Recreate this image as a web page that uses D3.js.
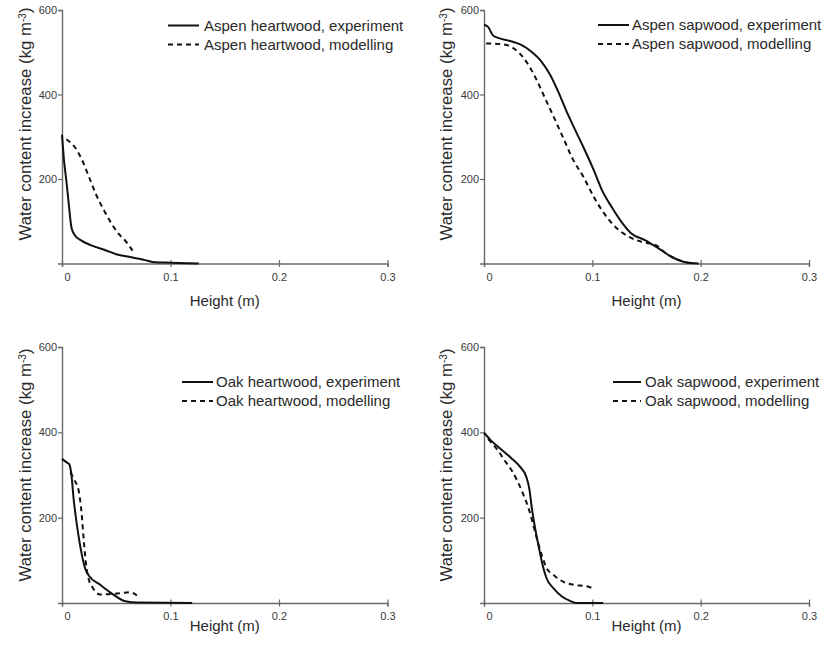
<!DOCTYPE html>
<html><head><meta charset="utf-8">
<script src="https://cdn.jsdelivr.net/npm/d3@7"></script>
<style>
body{margin:0;background:#fff;}
svg{display:block;font-family:"Liberation Sans",Arial,Helvetica,sans-serif;}
</style>
</head><body>
<svg id="chart" width="826" height="645"></svg>
<script>
// ---------------- DATA ----------------
const xTicks = [0, 0.1, 0.2, 0.3];
const xTickLabels = ["0", "0.1", "0.2", "0.3"];
const yTicks = [200, 400, 600];
const yTickLabels = ["200", "400", "600"];
const xDomain = [0, 0.3];
const yDomain = [0, 600];

const panelNames = ["Aspen heartwood", "Aspen sapwood", "Oak heartwood", "Oak sapwood"];
const seriesSuffix = [", experiment", ", modelling"];
const xAxisTitle = "Height (m)";
const yAxisTitle = "Water content increase (kg m";
const yAxisTitleSup = "-3";

// [height (m), water content increase (kg m-3)]
const aspenHeartExperiment = [[0,305],[0.0019,243],[0.004,196],[0.0062,142],[0.0087,85],[0.0118,67],[0.018,54],[0.027,43],[0.0395,32],[0.05,22],[0.064,15],[0.0766,8],[0.086,3],[0.1,2],[0.126,0]];
const aspenHeartModelling = [[0.004,294],[0.0133,270],[0.0195,239],[0.0256,200],[0.0318,161],[0.0395,122],[0.0457,94],[0.052,71],[0.058,55],[0.0657,28]];
const aspenSapExperiment = [[0,565],[0.0037,560],[0.0083,540],[0.013,534],[0.025,526],[0.034,518],[0.0438,501],[0.053,478],[0.061,447],[0.0685,407],[0.0762,360],[0.084,317],[0.092,274],[0.1015,220],[0.109,173],[0.118,133],[0.127,98],[0.136,71],[0.149,55],[0.161,36],[0.173,16],[0.186,3],[0.198,0]];
const aspenSapModelling = [[0.002,521],[0.016,519],[0.025,513],[0.033,497],[0.041,470],[0.0485,435],[0.0562,392],[0.064,349],[0.073,298],[0.082,247],[0.092,204],[0.1015,157],[0.111,118],[0.1215,86],[0.134,63],[0.146,51],[0.159,43],[0.168,24],[0.18,8],[0.193,0]];
const oakHeartExperiment = [[0,338],[0.0046,329],[0.0068,325],[0.0086,302],[0.0108,242],[0.0139,180],[0.018,117],[0.0217,78],[0.0248,64],[0.0355,42],[0.046,22],[0.0586,4],[0.069,1],[0.12,0]];
const oakHeartModelling = [[0.0077,306],[0.0117,287],[0.0154,263],[0.018,212],[0.02,149],[0.022,94],[0.0248,54],[0.0278,38],[0.035,20],[0.045,21],[0.054,23],[0.063,25],[0.072,11]];
const oakSapExperiment = [[0,399],[0.0068,380],[0.016,360],[0.025,340],[0.033,320],[0.039,296],[0.042,265],[0.044,225],[0.047,178],[0.0506,131],[0.0537,93],[0.0577,58],[0.064,35],[0.0716,16],[0.0794,5],[0.0855,0],[0.11,0]];
const oakSapModelling = [[0.0037,384],[0.013,357],[0.019,334],[0.025,313],[0.031,285],[0.037,250],[0.042,215],[0.046,178],[0.05,140],[0.0537,109],[0.0577,82],[0.064,66],[0.073,50],[0.084,42],[0.093,40],[0.1,35]];

const panelSeries = [
  [aspenHeartExperiment, aspenHeartModelling],
  [aspenSapExperiment, aspenSapModelling],
  [oakHeartExperiment, oakHeartModelling],
  [oakSapExperiment, oakSapModelling]
];

// ---------------- LAYOUT ----------------
const layout = [
  {x0:62,  x1:387.5, yTop:10,  yBot:263.5, legLine:[168,199], legText:204, legY:25.5, xTitleY:305.5, yTitleX:25,  yTitleC:124},
  {x0:484, x1:809,   yTop:10,  yBot:263.5, legLine:[598,629], legText:632, legY:25,   xTitleY:305.5, yTitleX:446, yTitleC:124},
  {x0:62,  x1:387.5, yTop:347, yBot:603,   legLine:[182,213], legText:216, legY:382,  xTitleY:630.5, yTitleX:25,  yTitleC:465},
  {x0:484, x1:809,   yTop:347, yBot:603,   legLine:[613,641], legText:645, legY:382,  xTitleY:630.5, yTitleX:446, yTitleC:465}
];
const legGap = 19;
const axisColor = "#6a6a6a";
const textColor = "#2a2a2a";

const svg = d3.select("#chart");

layout.forEach((L, p) => {
  const x = d3.scaleLinear().domain(xDomain).range([L.x0, L.x1]);
  const y = d3.scaleLinear().domain(yDomain).range([L.yBot, L.yTop]);
  const g = svg.append("g");

  // y axis
  const ya = g.append("g").attr("transform", `translate(${L.x0},0)`)
    .call(d3.axisLeft(y).tickValues(yTicks).tickFormat((d,i)=>yTickLabels[i]).tickSizeOuter(0).tickSize(4).tickPadding(1));
  ya.select(".domain").attr("stroke", axisColor).attr("stroke-width", 1.4);
  ya.selectAll(".tick line").attr("stroke", axisColor).attr("stroke-width", 1.2);
  ya.selectAll(".tick text").attr("fill", "#3a3a3a").style("font-size", "11px").style("font-family", '"Liberation Sans",Arial,sans-serif');

  // x axis
  const xa = g.append("g").attr("transform", `translate(0,${L.yBot})`)
    .call(d3.axisBottom(x).tickValues(xTicks).tickFormat((d,i)=>xTickLabels[i]).tickSizeOuter(0).tickSize(3.5));
  xa.select(".domain").attr("stroke", axisColor).attr("stroke-width", 1.4);
  xa.selectAll(".tick line").attr("stroke", axisColor).attr("stroke-width", 1.2).attr("y1", -3.5);
  xa.selectAll(".tick text").attr("fill", "#3a3a3a").style("font-size", "11px")
    .style("font-family", '"Liberation Sans",Arial,sans-serif')
    .attr("y", 17).attr("dy", 0)
    .attr("dx", (d,i)=> i===0 ? 5 : 0);

  // axis titles
  g.append("text").attr("x", (L.x0+L.x1)/2).attr("y", L.xTitleY)
    .attr("text-anchor", "middle").attr("fill", textColor).style("font-size", "15px").text(xAxisTitle);
  const yt = g.append("text")
    .attr("transform", `translate(${L.yTitleX},${L.yTitleC}) rotate(-90)`)
    .attr("text-anchor", "middle").attr("dy", "0.36em").attr("fill", textColor).style("font-size", "16.8px");
  yt.append("tspan").text(yAxisTitle);
  yt.append("tspan").attr("baseline-shift", "super").style("font-size", "10px").text(yAxisTitleSup);
  yt.append("tspan").text(")");

  // lines
  const line = d3.line().x(d=>x(d[0])).y(d=>y(d[1])).curve(d3.curveMonotoneX);
  panelSeries[p].forEach((s, k) => {
    g.append("path").datum(s).attr("d", line)
      .attr("fill", "none").attr("stroke", "#111").attr("stroke-width", 2)
      .attr("stroke-linejoin", "round")
      .attr("stroke-dasharray", k===1 ? "5,4" : null);
  });

  // legend
  [0,1].forEach(k => {
    const ly = L.legY + k*legGap;
    g.append("line").attr("x1", L.legLine[0]).attr("x2", L.legLine[1]).attr("y1", ly).attr("y2", ly)
      .attr("stroke", "#111").attr("stroke-width", 2).attr("stroke-dasharray", k===1 ? "5,4" : null);
    g.append("text").attr("x", L.legText).attr("y", ly).attr("dy", "0.36em")
      .attr("fill", textColor).style("font-size", "15px").text(panelNames[p] + seriesSuffix[k]);
  });
});
</script>
</body></html>
